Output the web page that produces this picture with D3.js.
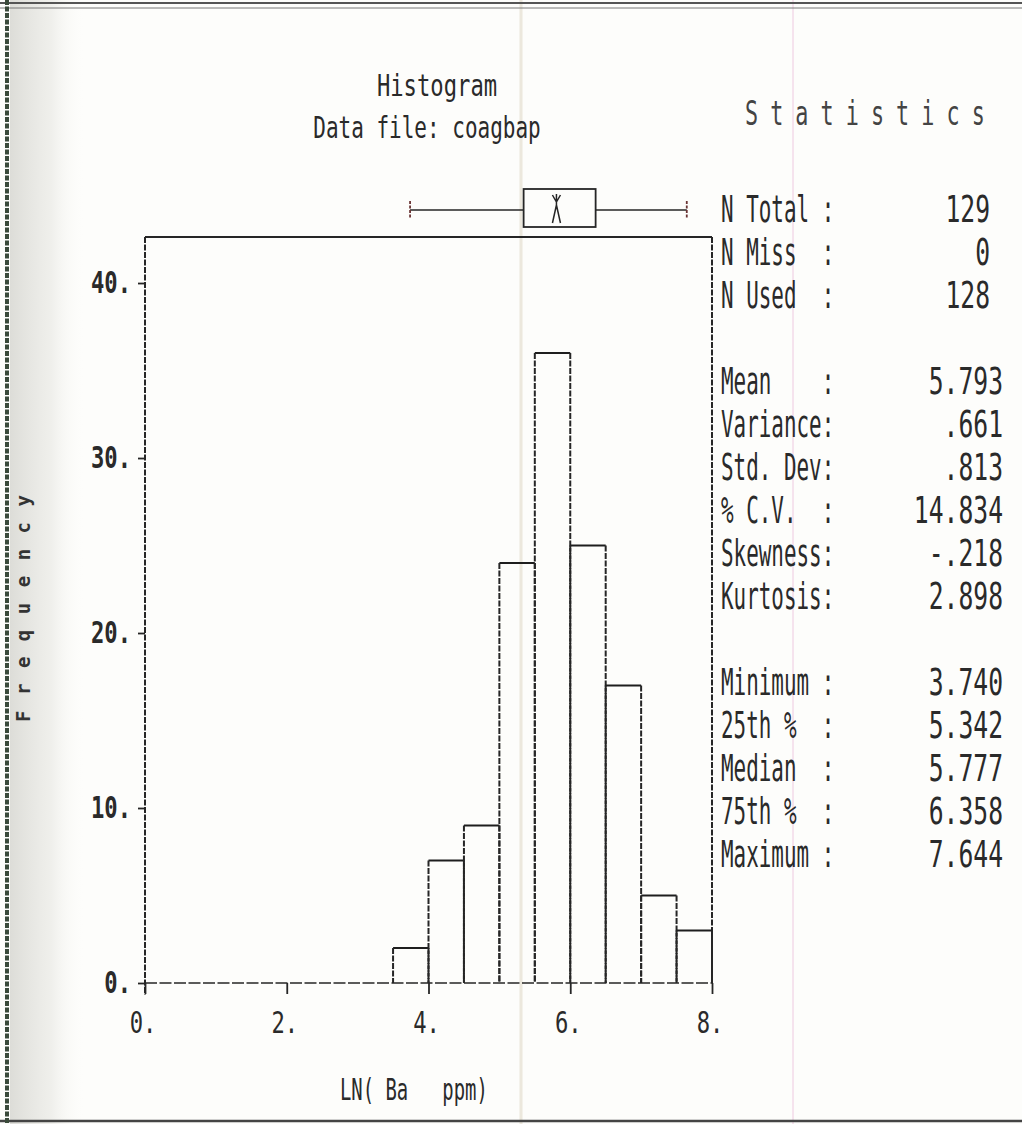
<!DOCTYPE html>
<html>
<head>
<meta charset="utf-8">
<script src="https://cdn.jsdelivr.net/npm/d3@7"></script>
<style>
  html, body { margin: 0; padding: 0; background: #fdfdfb; }
  svg { display: block; }
  text { font-family: "DejaVu Sans Mono", "Liberation Mono", monospace; fill: #2a2a2a; white-space: pre; }
</style>
</head>
<body>
<svg id="chart" width="1022" height="1124"></svg>
<script>
// Histogram of LN(Ba ppm), bin width 0.5
const binStarts = [3.5, 4.0, 4.5, 5.0, 5.5, 6.0, 6.5, 7.0, 7.5];
const binWidth = 0.5;
const counts = [2, 7, 9, 24, 36, 25, 17, 5, 3];

const xTicks = [0, 2, 4, 6, 8];
const xTickLabels = ["0.", "2.", "4.", "6.", "8."];
const yTicks = [0, 10, 20, 30, 40];
const yTickLabels = ["0.", "10.", "20.", "30.", "40."];

// Box plot summary
const boxMin = 3.740, boxQ1 = 5.342, boxMedian = 5.777, boxQ3 = 6.358, boxMax = 7.644;

// Statistics panel, in three groups
const statGroup1Labels = ["N Total :", "N Miss  :", "N Used  :"];
const statGroup1Values = ["129", "0", "128"];
const statGroup2Labels = ["Mean    :", "Variance:", "Std. Dev:", "% C.V.  :", "Skewness:", "Kurtosis:"];
const statGroup2Values = ["5.793", ".661", ".813", "14.834", "-.218", "2.898"];
const statGroup3Labels = ["Minimum :", "25th %  :", "Median  :", "75th %  :", "Maximum :"];
const statGroup3Values = ["3.740", "5.342", "5.777", "6.358", "7.644"];

const titleLines = ["Histogram", "Data file: coagbap"];
const xTitle = "LN( Ba   ppm)";
const yTitle = "Frequency";
const statsTitle = "Statistics";

const svg = d3.select("#chart");
const ink = "#262626";

// Paper background, grey haze down the left margin
const defs = svg.append("defs");
const haze = defs.append("linearGradient").attr("id", "haze").attr("x1", 0).attr("x2", 1);
haze.append("stop").attr("offset", "0").attr("stop-color", "#d9d9d4").attr("stop-opacity", 0.9);
haze.append("stop").attr("offset", "0.55").attr("stop-color", "#e6e6e1").attr("stop-opacity", 0.6);
haze.append("stop").attr("offset", "1").attr("stop-color", "#fdfdfb").attr("stop-opacity", 0);
svg.append("rect").attr("x", 0).attr("y", 0).attr("width", 1022).attr("height", 1124).attr("fill", "#fdfdfb");
svg.append("rect").attr("x", 10).attr("y", 0).attr("width", 75).attr("height", 1124).attr("fill", "url(#haze)");

// Paper crease and a faint pink ruling line
svg.append("line").attr("x1", 521).attr("x2", 521).attr("y1", 0).attr("y2", 1124)
  .attr("stroke", "#ddd5c0").attr("stroke-width", 3).attr("opacity", 0.5);
svg.append("line").attr("x1", 793).attr("x2", 793).attr("y1", 0).attr("y2", 1124)
  .attr("stroke", "#e6a8d0").attr("stroke-width", 1).attr("opacity", 0.6);

// Page borders
svg.append("line").attr("x1", 0).attr("x2", 1022).attr("y1", 3).attr("y2", 3).attr("stroke", "#555").attr("stroke-width", 2);
svg.append("line").attr("x1", 0).attr("x2", 1022).attr("y1", 8).attr("y2", 8).attr("stroke", "#777").attr("stroke-width", 1);
svg.append("line").attr("x1", 0).attr("x2", 1022).attr("y1", 1121).attr("y2", 1121).attr("stroke", "#444").attr("stroke-width", 2.5);
svg.append("line").attr("x1", 7).attr("x2", 7).attr("y1", 0).attr("y2", 1124)
  .attr("stroke", "#3a4a3a").attr("stroke-width", 4).attr("stroke-dasharray", "5,1.5");

// Condensed dot-matrix style text helper
function label(parent, str, x, y, opt) {
  const o = Object.assign({ size: 24, sx: 0.8, anchor: "start", weight: "normal", spacing: 0, fill: "#2a2a2a" }, opt || {});
  const g = parent.append("g").attr("transform", `translate(${x},${y}) scale(${o.sx},1)`);
  return g.append("text")
    .attr("font-size", o.size)
    .attr("font-weight", o.weight)
    .attr("letter-spacing", o.spacing)
    .attr("text-anchor", o.anchor)
    .style("fill", o.fill)
    .text(str);
}

// Scales
const x = d3.scaleLinear().domain([0, 8]).range([145, 712]);
const y = d3.scaleLinear().domain([0, 42.63]).range([983, 237]);

const plot = svg.append("g");
const dash = "6,1.5";

// Frame: top line solid, sides dashed
plot.append("line").attr("x1", x(0)).attr("x2", x(8)).attr("y1", y.range()[1]).attr("y2", y.range()[1])
  .attr("stroke", ink).attr("stroke-width", 1.8);
plot.append("line").attr("x1", x(8)).attr("x2", x(8)).attr("y1", y.range()[1]).attr("y2", y(0))
  .attr("stroke", ink).attr("stroke-width", 2).attr("stroke-dasharray", dash);

// Y axis
const yAxis = d3.axisLeft(y).tickValues(yTicks).tickSize(7).tickFormat("");
const yAx = plot.append("g").attr("transform", `translate(${x(0)},0)`).call(yAxis);
yAx.select(".domain").remove();
yAx.selectAll(".tick line").attr("stroke", ink).attr("stroke-width", 1.8);
plot.append("line").attr("x1", x(0)).attr("x2", x(0)).attr("y1", y.range()[1]).attr("y2", y(0) + 12)
  .attr("stroke", ink).attr("stroke-width", 2).attr("stroke-dasharray", dash);
yTicks.forEach((t, i) => {
  label(plot, yTickLabels[i], 131, y(t) + 10, { size: 30, sx: 0.74, anchor: "end", weight: "bold" });
});

// X axis
const xAxis = d3.axisBottom(x).tickValues(xTicks).tickSize(11).tickFormat("");
const xAx = plot.append("g").attr("transform", `translate(0,${y(0)})`).call(xAxis);
xAx.select(".domain").remove();
xAx.selectAll(".tick line").attr("stroke", ink).attr("stroke-width", 1.8);
plot.append("line").attr("x1", x(0)).attr("x2", x(8)).attr("y1", y(0)).attr("y2", y(0))
  .attr("stroke", ink).attr("stroke-width", 1.7).attr("stroke-dasharray", "12,2.5");
xTicks.forEach((t, i) => {
  label(plot, xTickLabels[i], x(t) - 2, 1033, { size: 30, sx: 0.74, anchor: "middle" });
});

// Histogram bars: solid tops, dashed sides
const bars = plot.append("g");
binStarts.forEach((b, i) => {
  const x0 = x(b), x1 = x(b + binWidth), yt = y(counts[i]);
  bars.append("line").attr("x1", x0).attr("x2", x1).attr("y1", yt).attr("y2", yt)
    .attr("stroke", "#1e1e1e").attr("stroke-width", 2.2);
  [x0, x1].forEach(xx => {
    bars.append("line").attr("x1", xx).attr("x2", xx).attr("y1", yt).attr("y2", y(0))
      .attr("stroke", ink).attr("stroke-width", 2).attr("stroke-dasharray", dash);
  });
});

// Box plot above the frame
const bp = svg.append("g");
const bpMid = 210, bpTop = 189, bpBot = 227;
bp.append("line").attr("x1", x(boxMin)).attr("x2", x(boxQ1)).attr("y1", bpMid).attr("y2", bpMid)
  .attr("stroke", ink).attr("stroke-width", 1.7);
bp.append("line").attr("x1", x(boxQ3)).attr("x2", x(boxMax)).attr("y1", bpMid).attr("y2", bpMid)
  .attr("stroke", ink).attr("stroke-width", 1.7);
[boxMin, boxMax].forEach(v => {
  bp.append("line").attr("x1", x(v)).attr("x2", x(v)).attr("y1", bpMid - 9).attr("y2", bpMid + 9)
    .attr("stroke", "#6a3434").attr("stroke-width", 1.8).attr("stroke-dasharray", "3,1.5");
});
bp.append("rect").attr("x", x(boxQ1)).attr("y", bpTop).attr("width", x(boxQ3) - x(boxQ1)).attr("height", bpBot - bpTop)
  .attr("fill", "none").attr("stroke", ink).attr("stroke-width", 1.8);
// median marker
const mx = x(boxMedian) + 2;
bp.append("path")
  .attr("d", `M${mx - 4},${bpTop + 6} L${mx},${bpTop + 13} L${mx + 4},${bpTop + 6} M${mx},${bpTop + 5} L${mx},${bpTop + 16} M${mx - 4},${bpBot - 4} L${mx},${bpTop + 16} L${mx + 4},${bpBot - 4}`)
  .attr("fill", "none").attr("stroke", ink).attr("stroke-width", 1.5);

// Titles
label(svg, titleLines[0], 437, 96, { size: 30, sx: 0.74, anchor: "middle" });
label(svg, titleLines[1], 427, 138, { size: 30, sx: 0.70, anchor: "middle" });

// Axis titles
label(svg, xTitle, 340, 1100, { size: 30, sx: 0.63 });
svg.append("text")
  .attr("transform", "translate(30,722) rotate(-90)")
  .attr("font-size", 19).attr("font-weight", "bold").attr("letter-spacing", 15.5)
  .style("fill", "#333")
  .text(yTitle);

// Statistics panel
label(svg, statsTitle, 745, 125, { size: 33, sx: 0.66, spacing: 18.3, fill: "#444" });

const rowStep = 43;
const statGroups = [
  [statGroup1Labels, statGroup1Values, true],
  [statGroup2Labels, statGroup2Values, false],
  [statGroup3Labels, statGroup3Values, false]
];
let row = 0;
const stats = svg.append("g");
statGroups.forEach(([labs, vals, isCount]) => {
  labs.forEach((l, i) => {
    const yy = 222 + row * rowStep;
    label(stats, l, 721, yy, { size: 38, sx: 0.55 });
    label(stats, vals[i], isCount ? 990 : 1003, yy, { size: 38, sx: 0.65, anchor: "end" });
    row++;
  });
  row++;
});
</script>
</body>
</html>
